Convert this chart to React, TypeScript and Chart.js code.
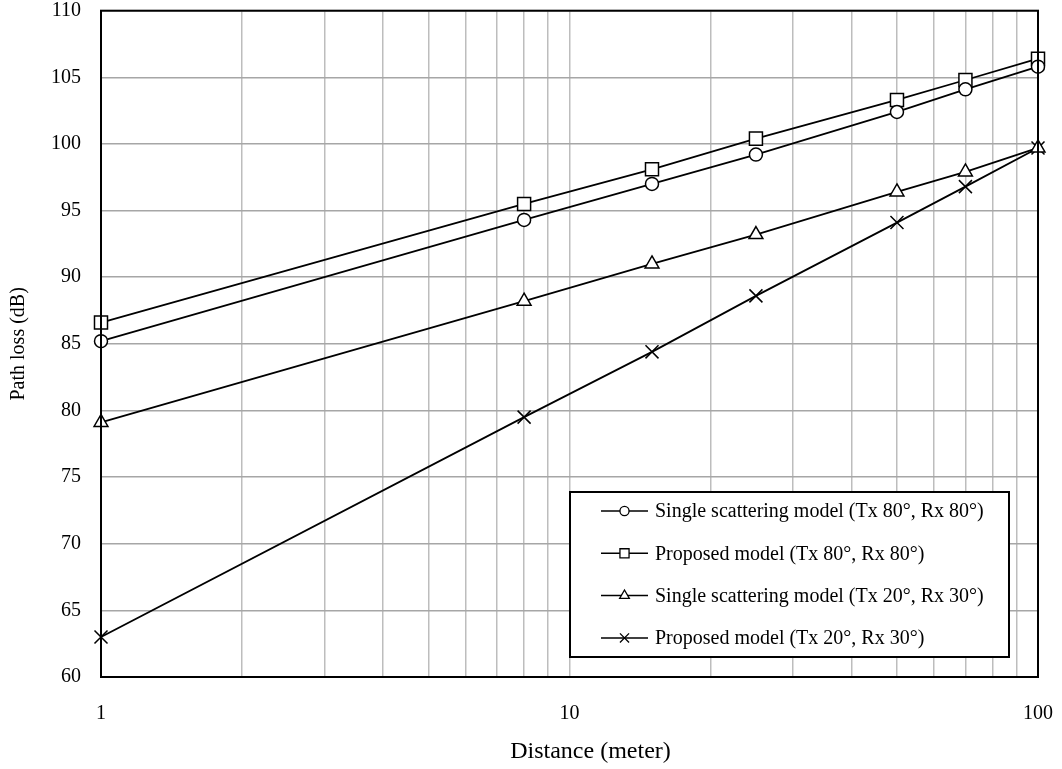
import React, { useEffect, useRef } from 'react';
import { Chart, registerables } from 'chart.js';
import { drawPoint } from 'chart.js/helpers';

Chart.register(...registerables);

const distances = [1, 8, 15, 25, 50, 70, 100];
const singleTx80 = [85.2, 94.3, 97.0, 99.2, 102.4, 104.1, 105.8];
const proposedTx80 = [86.6, 95.5, 98.1, 100.4, 103.3, 104.8, 106.4];
const singleTx20 = [79.1, 88.2, 91.0, 93.2, 96.4, 97.9, 99.7];
const proposedTx20 = [63.0, 79.5, 84.4, 88.6, 94.1, 96.8, 99.7];

const seriesLabels = [
  'Single scattering model (Tx 80°, Rx 80°)',
  'Proposed model (Tx 80°, Rx 80°)',
  'Single scattering model (Tx 20°, Rx 30°)',
  'Proposed model (Tx 20°, Rx 30°)',
];
const seriesValues = [singleTx80, proposedTx80, singleTx20, proposedTx20];
const seriesMarkers = ['circle', 'rect', 'triangle', 'crossRot'];
const markerRadii = [6.5, 9.2, 8, 9.2];

const xGridTicks = [1, 2, 3, 4, 5, 6, 7, 8, 9, 10, 20, 30, 40, 50, 60, 70, 80, 90, 100];
const xLabelTicks = [1, 10, 100];
const yMin = 60;
const yMax = 110;
const yStep = 5;

const xTitle = 'Distance (meter)';
const yTitle = 'Path loss (dB)';

const FONT = '"Liberation Serif", "Times New Roman", serif';

const framePlugin = {
  id: 'frame',
  afterDraw(chart: any) {
    const { ctx, chartArea } = chart;
    ctx.save();
    ctx.strokeStyle = '#000';
    ctx.lineWidth = 2;
    ctx.strokeRect(chartArea.left, chartArea.top, chartArea.right - chartArea.left, chartArea.bottom - chartArea.top);
    // x axis title
    ctx.fillStyle = '#000';
    ctx.font = `24px ${FONT}`;
    ctx.textAlign = 'center';
    ctx.textBaseline = 'middle';
    ctx.fillText(xTitle, (chartArea.left + chartArea.right) / 2 + 21, chartArea.bottom + 75);
    ctx.restore();
  },
};

const legendPlugin = {
  id: 'insideLegend',
  afterDraw(chart: any) {
    const { ctx, chartArea } = chart;
    const boxLeft = chartArea.right - 468;
    const boxRight = chartArea.right - 29;
    const boxTop = chartArea.bottom - 185;
    const boxBottom = chartArea.bottom - 20;
    ctx.save();
    ctx.fillStyle = '#fff';
    ctx.fillRect(boxLeft, boxTop, boxRight - boxLeft, boxBottom - boxTop);
    ctx.strokeStyle = '#000';
    ctx.lineWidth = 2;
    ctx.strokeRect(boxLeft, boxTop, boxRight - boxLeft, boxBottom - boxTop);
    const rowH = 42.3;
    chart.data.datasets.forEach((ds: any, i: number) => {
      const cy = boxTop + 19 + i * rowH;
      const lx0 = boxLeft + 31;
      const lx1 = boxLeft + 78;
      ctx.strokeStyle = '#000';
      ctx.lineWidth = 1.5;
      ctx.beginPath();
      ctx.moveTo(lx0, cy);
      ctx.lineTo(lx1, cy);
      ctx.stroke();
      ctx.fillStyle = '#fff';
      ctx.lineWidth = 1.3;
      drawPoint(ctx, { pointStyle: ds.pointStyle, radius: ds.pointRadius * 0.7, rotation: 0, borderWidth: 1.3 } as any, (lx0 + lx1) / 2, cy);
      ctx.fillStyle = '#000';
      ctx.font = `20px ${FONT}`;
      ctx.textAlign = 'left';
      ctx.textBaseline = 'middle';
      ctx.fillText(ds.label, boxLeft + 85, cy + 1);
    });
    ctx.restore();
  },
};

export default function App() {
  const canvasRef = useRef<HTMLCanvasElement | null>(null);

  useEffect(() => {
    if (!canvasRef.current) return;
    const chart = new Chart(canvasRef.current, {
      type: 'line',
      data: {
        datasets: seriesLabels.map((label, i) => ({
          label,
          data: distances.map((d, j) => ({ x: d, y: seriesValues[i][j] })),
          borderColor: '#000',
          borderWidth: 1.8,
          backgroundColor: '#fff',
          pointStyle: seriesMarkers[i] as any,
          pointRadius: markerRadii[i],
          pointBorderWidth: 1.5,
          pointBorderColor: '#000',
          pointBackgroundColor: seriesMarkers[i] === 'crossRot' ? '#000' : '#fff',
          tension: 0,
          clip: false as any,
        })),
      },
      options: {
        animation: false,
        responsive: true,
        maintainAspectRatio: false,
        layout: { padding: { top: 9, right: 24, left: 0, bottom: 0 } },
        plugins: {
          legend: { display: false },
          tooltip: { enabled: false },
        },
        scales: {
          x: {
            type: 'logarithmic',
            min: 1,
            max: 100,
            afterBuildTicks: (scale: any) => {
              scale.ticks = xGridTicks.map((v) => ({ value: v }));
            },
            afterFit: (scale: any) => {
              scale.height = 92;
              scale.paddingLeft = 0;
              scale.paddingRight = 0;
            },
            ticks: {
              autoSkip: false,
              maxRotation: 0,
              padding: 25,
              color: '#000',
              font: { family: FONT, size: 20 },
              callback: (v: any) => (xLabelTicks.includes(Number(v)) ? String(v) : ''),
            },
            grid: { color: '#bdbdbd', lineWidth: 1.5, drawTicks: false },
            border: { display: false },
            title: { display: false },
          },
          y: {
            type: 'linear',
            min: yMin,
            max: yMax,
            afterFit: (scale: any) => {
              scale.width = 101;
              scale.paddingTop = 0;
              scale.paddingBottom = 0;
            },
            ticks: {
              stepSize: yStep,
              padding: 20,
              color: '#000',
              font: { family: FONT, size: 20 },
            },
            grid: { color: '#a6a6a6', lineWidth: 1.5, drawTicks: false },
            border: { display: false },
            title: {
              display: true,
              text: yTitle,
              color: '#000',
              font: { family: FONT, size: 20 },
              padding: { top: 7, bottom: 0 },
            },
          },
        },
      },
      plugins: [framePlugin, legendPlugin],
    });
    return () => chart.destroy();
  }, []);

  return (
    <div style={{ position: 'fixed', left: 0, top: 0, width: 1062, height: 769, background: '#fff' }}>
      <canvas ref={canvasRef} />
    </div>
  );
}
